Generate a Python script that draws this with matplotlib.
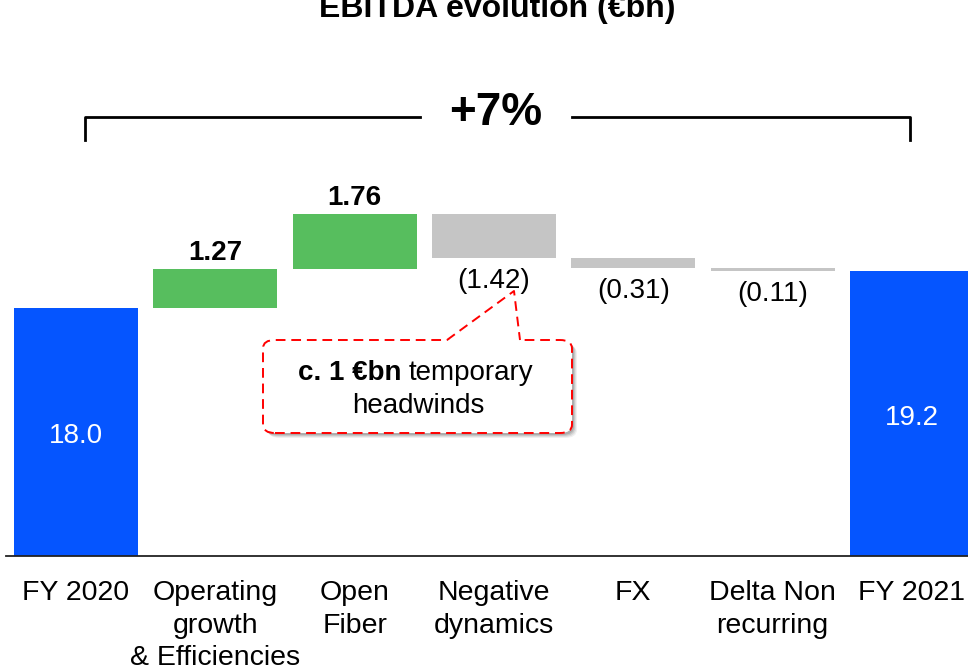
import matplotlib
matplotlib.use("Agg")
import matplotlib.pyplot as plt
from matplotlib.patches import FancyBboxPatch, Polygon
from matplotlib.lines import Line2D

plt.rcParams['font.family'] = ['Liberation Sans', 'DejaVu Sans']

# ---------------- data ----------------
categories = ["FY 2020", "Operating\ngrowth\n& Efficiencies", "Open\nFiber",
              "Negative\ndynamics", "FX", "Delta Non\nrecurring", "FY 2021"]
start_value = 18.0
steps = [1.27, 1.76, -1.42, -0.31, -0.11]
end_value = 19.2
step_labels = ["1.27", "1.76", "(1.42)", "(0.31)", "(0.11)"]
total_labels = ["18.0", "19.2"]
growth_label = "+7%"
title = "EBITDA evolution (€bn)"

BLUE = "#0555FF"
GREEN = "#57BE5E"
GREY = "#C5C5C5"

W, H = 968, 672
fig = plt.figure(figsize=(W / 100, H / 100), dpi=100)

def fx(px):
    return px / W

def fy(py):
    return 1 - py / H

# axes: left edge at 6px, bottom at 556px, top at 100px
ax = fig.add_axes([fx(6), fy(556), fx(968) - fx(6), fy(100) - fy(556)])
ybase = 10.0
ax.set_ylim(ybase, ybase + 456 / 31.0)
ax.set_xlim(-0.5025, 6.403)

bw = 0.89
# totals
ax.bar(0, start_value - ybase, bottom=ybase, width=bw, color=BLUE, zorder=2)
ax.bar(6, end_value - ybase, bottom=ybase, width=bw, color=BLUE, zorder=2, clip_on=False)
ax.annotate(total_labels[0], (0, (start_value + ybase) / 2), xytext=(0, -3),
            textcoords="offset points", color="white", fontsize=20,
            ha="center", va="center")
ax.annotate(total_labels[1], (6, (end_value + ybase) / 2), xytext=(0, -3),
            textcoords="offset points", color="white", fontsize=20,
            ha="center", va="center")

cum = start_value
for i, (s, lab) in enumerate(zip(steps, step_labels), start=1):
    lo = min(cum, cum + s)
    ax.bar(i, abs(s), bottom=lo, width=bw, color=GREEN if s > 0 else GREY, zorder=2)
    if s > 0:
        ax.annotate(lab, (i, cum + s), xytext=(0, 6.5), textcoords="offset points",
                    ha="center", va="baseline", fontsize=20, fontweight="bold")
    else:
        ax.annotate(lab, (i, cum + s), xytext=(0, -21.5), textcoords="offset points",
                    ha="center", va="baseline", fontsize=20)
    cum += s

for side in ["left", "right", "top"]:
    ax.spines[side].set_visible(False)
ax.spines["bottom"].set_color("#222222")
ax.spines["bottom"].set_linewidth(1.3)
ax.spines["bottom"].set_zorder(3)
ax.set_yticks([])
ax.set_xticks(range(len(categories)))
ax.set_xticklabels(categories, fontsize=20.5)
for lab in ax.get_xticklabels():
    lab.set_linespacing(1.32)
ax.tick_params(axis="x", length=0, pad=17.5)

# title (cut at top, as in the reference)
fig.text(fx(497), fy(17), title, fontsize=23, fontweight="bold",
         ha="center", va="baseline")

# bracket with +7%
lw = 2.0
fig.add_artist(Line2D([fx(85), fx(85), fx(420)], [fy(140), fy(117), fy(117)],
                      color="black", lw=lw, solid_joinstyle="round"))
fig.add_artist(Line2D([fx(572), fx(910), fx(910)], [fy(117), fy(117), fy(140)],
                      color="black", lw=lw, solid_joinstyle="round"))
fig.text(fx(496), fy(125), growth_label, fontsize=33, fontweight="bold",
         ha="center", va="baseline")

# callout box
bx0, by0, bx1, by1 = 263, 340, 572, 433
rad = 12
for k, a in [(5, 0.06), (4, 0.08), (3, 0.10), (2, 0.12)]:
    sh = FancyBboxPatch((fx(bx0 + k), fy(by1 + k)), fx(bx1) - fx(bx0), fy(by0) - fy(by1),
                        boxstyle=f"round,pad=0,rounding_size={rad / W}",
                        transform=fig.transFigure, facecolor="black", edgecolor="none",
                        alpha=a, zorder=4)
    fig.add_artist(sh)
box = FancyBboxPatch((fx(bx0), fy(by1)), fx(bx1) - fx(bx0), fy(by0) - fy(by1),
                     boxstyle=f"round,pad=0,rounding_size={rad / W}",
                     transform=fig.transFigure, facecolor="white", edgecolor="#FF0000",
                     lw=1.4, linestyle=(0, (5, 3)), zorder=5)
fig.add_artist(box)
# pointer
ptr = Polygon([(fx(447), fy(341)), (fx(514), fy(291)), (fx(520), fy(341))],
              closed=True, transform=fig.transFigure, facecolor="white",
              edgecolor="none", zorder=6)
fig.add_artist(ptr)
fig.add_artist(Line2D([fx(447), fx(514), fx(520)], [fy(340), fy(291), fy(340)],
                      color="#FF0000", lw=1.4, linestyle=(0, (5, 3)), zorder=7))
fig.text(fx(402), fy(380), "c. 1 €bn", fontsize=20, fontweight="bold",
         ha="right", va="baseline", zorder=8)
fig.text(fx(409), fy(380), "temporary", fontsize=20, ha="left", va="baseline", zorder=8)
fig.text(fx(418), fy(413), "headwinds", fontsize=20, ha="center", va="baseline", zorder=8)

fig.savefig("out.png", dpi=100)
